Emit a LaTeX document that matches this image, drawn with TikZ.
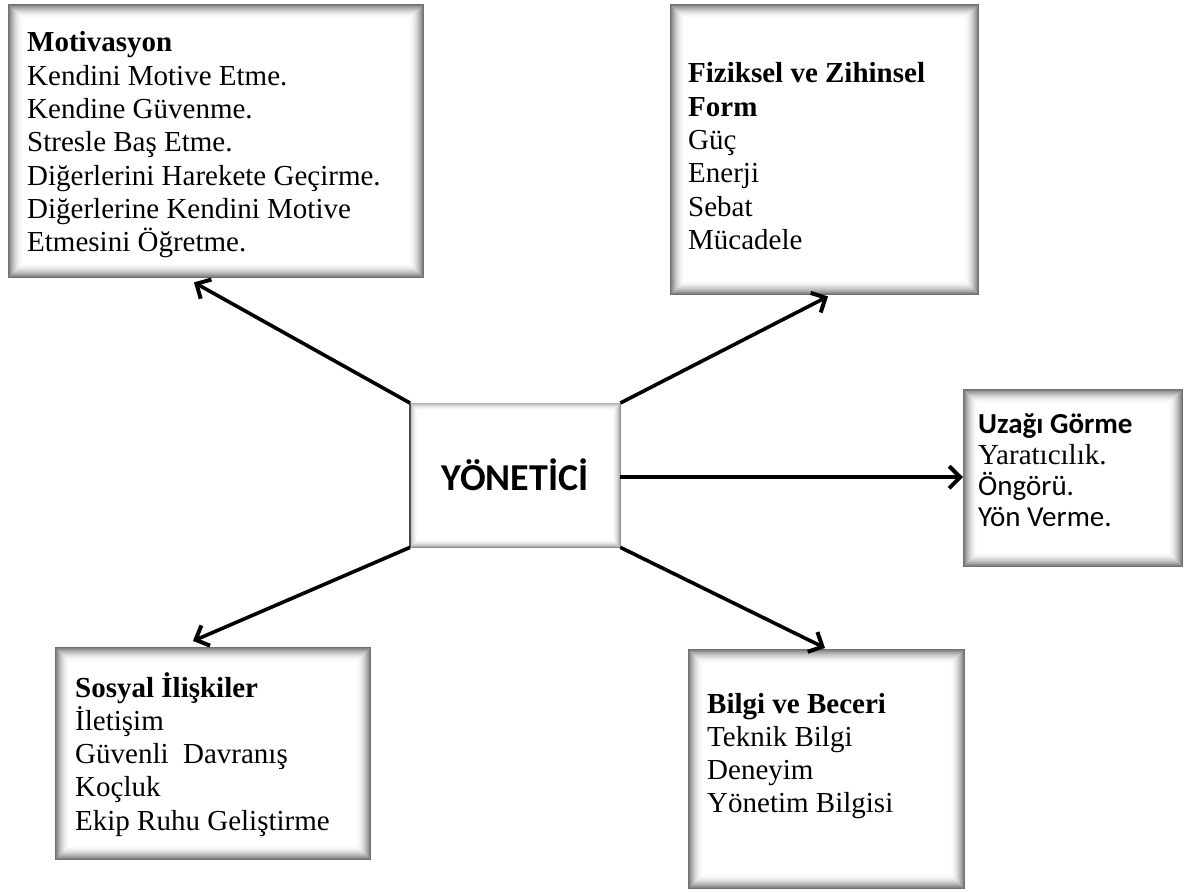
\documentclass[tikz,border=0pt]{standalone}
\usepackage{fontspec}
\setmainfont{Liberation Serif}
\newfontfamily\calibri{Carlito}
\usetikzlibrary{arrows.meta,calc}

% soft inner shadow along the edges of a named panel
\newcommand\innershade[3]{%
  \foreach \i in {0,...,#2}{%
    \pgfmathsetmacro\dd{\i+0.5}%
    \pgfmathsetmacro\pc{#3*(1-\i/(#2+1))^2}%
    \draw[black!\pc, line width=1.05pt]
      ([shift={(\dd pt,-\dd pt)}]#1.north west) rectangle
      ([shift={(-\dd pt,\dd pt)}]#1.south east);
  }%
}

\tikzset{
  panel/.style={draw=none, fill=white, inner sep=0pt, anchor=north west},
  blurb/.style={anchor=base west, inner sep=0pt,
    font=\fontsize{29}{33.3}\selectfont},
  link/.style={line width=3.6pt,
    -{Straight Barb[length=11pt,width=22pt,line width=4pt]}},
}

\begin{document}
\begin{tikzpicture}[x=1pt,y=-1pt]
  \useasboundingbox[fill=white] (0,0) rectangle (1194,893);

  % panels
  \node[panel, minimum width=416pt, minimum height=274pt] (mot) at (8,4) {};
  \node[panel, minimum width=309pt, minimum height=291pt] (fiz) at (670,4) {};
  \node[panel, minimum width=220pt, minimum height=178pt] (uz)  at (963,389) {};
  \node[panel, minimum width=316pt, minimum height=213pt] (sos) at (55,647) {};
  \node[panel, minimum width=277pt, minimum height=240pt] (bil) at (688,649) {};
  \node[panel, minimum width=210pt, minimum height=144pt] (ctr) at (410,403) {};

  \innershade{mot}{14}{56}
  \innershade{fiz}{14}{56}
  \innershade{uz}{14}{56}
  \innershade{sos}{14}{56}
  \innershade{bil}{14}{56}
  \innershade{ctr}{7}{30}
  \draw[black!70, line width=1.2pt] (ctr.north west) -- (ctr.south west);
  \draw[black!45, line width=1pt] (ctr.south west) -- (ctr.south east) -- (ctr.north east);

  % texts
  \node[blurb] (motT) at (27,52) {\parbox[t]{390pt}{\textbf{Motivasyon}\\
    Kendini Motive Etme.\\
    Kendine Güvenme.\\
    Stresle Baş Etme.\\
    Diğerlerini Harekete Geçirme.\\
    Diğerlerine Kendini Motive\\
    Etmesini Öğretme.}};

  \node[blurb] (fizT) at (688,83) {\parbox[t]{285pt}{\textbf{Fiziksel ve Zihinsel}\\
    \textbf{Form}\\
    Güç\\
    Enerji\\
    Sebat\\
    Mücadele}};

  \node[blurb, font=\fontsize{29}{31}\selectfont] (uzT) at (978,433) {\parbox[t]{200pt}{{\calibri\bfseries Uzağı Görme}\\
    Yaratıcılık.\\
    {\calibri Öngörü.}\\
    {\calibri Yön Verme.}}};

  \node[blurb] (sosT) at (75,697) {\parbox[t]{290pt}{\textbf{Sosyal İlişkiler}\\
    İletişim\\
    Güvenli\ \ Davranış\\
    Koçluk\\
    Ekip Ruhu Geliştirme}};

  \node[blurb] (bilT) at (707,713) {\parbox[t]{250pt}{\textbf{Bilgi ve Beceri}\\
    Teknik Bilgi\\
    Deneyim\\
    Yönetim Bilgisi}};

  \node[inner sep=0pt, font=\calibri\bfseries\fontsize{38}{40}\selectfont] (ctrT) at (ctr.center) {YÖNETİCİ};

  % connectors
  \draw[link] (ctr.north west) -- ([shift={(186pt,-4pt)}]mot.south west);
  \draw[link] (ctr.north east) -- ([shift={(158pt,-1pt)}]fiz.south west);
  \draw[link] ([yshift=-2pt]ctr.east) -- ([yshift=-2pt]ctr.east -| uz.west);
  \draw[link] (ctr.south west) -- ([shift={(138pt,6pt)}]sos.north west);
  \draw[link] (ctr.south east) -- ([shift={(137pt,1pt)}]bil.north west);
\end{tikzpicture}
\end{document}
